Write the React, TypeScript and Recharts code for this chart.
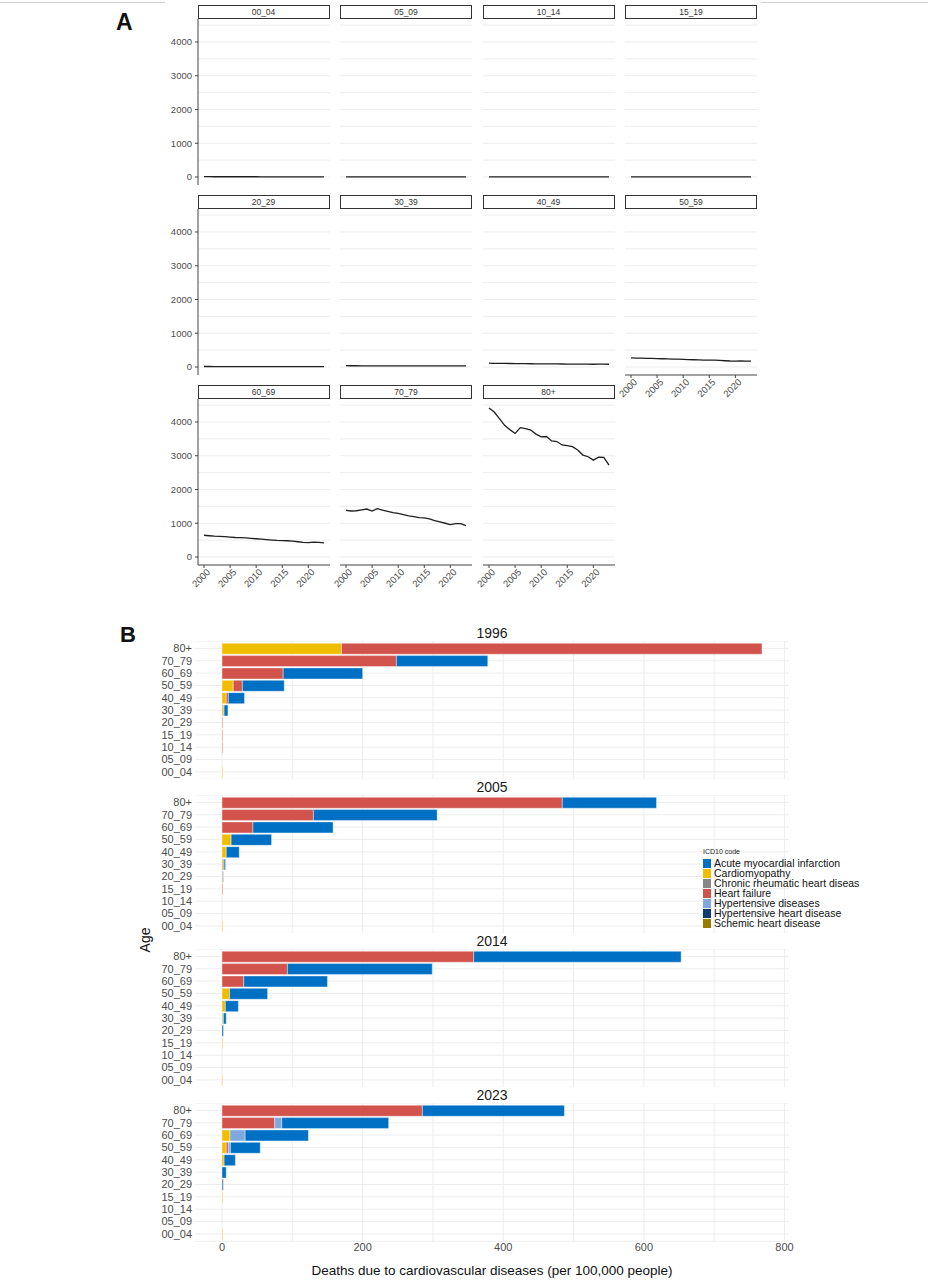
import React from "react";
import { LineChart, Line, XAxis, YAxis, BarChart, Bar, CartesianGrid } from "recharts";

const FONT = '"Liberation Sans", Arial, sans-serif';

// ---------- Panel A data ----------
const years = [2000, 2001, 2002, 2003, 2004, 2005, 2006, 2007, 2008, 2009, 2010, 2011, 2012, 2013, 2014, 2015, 2016, 2017, 2018, 2019, 2020, 2021, 2022, 2023];
const yearTicks = [2000, 2005, 2010, 2015, 2020];
const yTicksA = [0, 1000, 2000, 3000, 4000];
const gridA = [0, 500, 1000, 1500, 2000, 2500, 3000, 3500, 4000, 4500];

const rate00_04 = [9, 9, 8, 8, 8, 8, 7, 7, 7, 7, 7, 6, 6, 6, 6, 6, 6, 6, 5, 5, 5, 5, 5, 5];
const rate05_09 = [4, 4, 3, 2, 2, 2, 2, 2, 2, 2, 2, 2, 2, 2, 2, 2, 2, 2, 2, 2, 2, 2, 2, 2];
const rate10_14 = [3, 3, 3, 3, 3, 3, 3, 3, 3, 3, 3, 3, 3, 3, 3, 3, 3, 3, 3, 3, 3, 3, 3, 3];
const rate15_19 = [5, 5, 5, 5, 5, 5, 5, 5, 5, 5, 5, 5, 5, 5, 5, 5, 5, 5, 5, 5, 5, 5, 5, 5];
const rate20_29 = [15, 15, 14, 14, 14, 13, 13, 13, 13, 13, 12, 12, 12, 12, 12, 12, 12, 12, 11, 11, 11, 12, 12, 12];
const rate30_39 = [38, 37, 37, 36, 36, 35, 35, 34, 34, 34, 33, 33, 33, 32, 32, 32, 32, 31, 31, 31, 31, 32, 32, 31];
const rate40_49 = [112, 110, 108, 106, 104, 102, 100, 98, 96, 95, 93, 92, 91, 90, 89, 88, 87, 86, 84, 83, 82, 84, 83, 82];
const rate50_59 = [272, 265, 262, 258, 254, 250, 245, 240, 236, 231, 225, 220, 215, 210, 206, 205, 203, 195, 185, 178, 177, 180, 176, 172];
const rate60_69 = [645, 630, 618, 612, 605, 590, 578, 572, 565, 552, 540, 528, 515, 502, 492, 488, 482, 468, 452, 432, 425, 442, 435, 418];
const rate70_79 = [1382, 1363, 1370, 1395, 1421, 1363, 1431, 1392, 1353, 1314, 1294, 1255, 1216, 1196, 1167, 1157, 1127, 1078, 1039, 1000, 961, 990, 990, 931];
const rate80plus = [4413, 4295, 4098, 3902, 3774, 3660, 3833, 3800, 3760, 3640, 3560, 3570, 3440, 3420, 3320, 3300, 3270, 3170, 3020, 2970, 2870, 2955, 2950, 2720];

const facetLabelsA = ["00_04", "05_09", "10_14", "15_19", "20_29", "30_39", "40_49", "50_59", "60_69", "70_79", "80+"];
const facetValuesA = [rate00_04, rate05_09, rate10_14, rate15_19, rate20_29, rate30_39, rate40_49, rate50_59, rate60_69, rate70_79, rate80plus];

// ---------- Panel B data ----------
const yearsB = [1996, 2005, 2014, 2023];
const ageLabels = ["80+", "70_79", "60_69", "50_59", "40_49", "30_39", "20_29", "15_19", "10_14", "05_09", "00_04"];
const xTicksB = [0, 200, 400, 600, 800];
const gridB = [0, 100, 200, 300, 400, 500, 600, 700, 800];

// each inner array: ages 80+ ... 00_04 ; outer: 1996, 2005, 2014, 2023
const cardiomyopathy = [
  [170, 0, 0, 16, 6, 2.4, 0.5, 0, 0, 0, 1],
  [0, 0, 0, 13, 6, 2, 0.5, 0, 0, 0, 1],
  [0, 0, 0, 10.8, 4.8, 1.2, 0, 1, 0, 0, 1],
  [0, 0, 11.4, 6, 3, 0, 0, 1, 0, 0, 1],
];
const heartFailure = [
  [598, 248, 87, 13, 3, 0, 1, 1, 1, 0, 0],
  [484, 130, 44, 0, 0, 0, 0, 1, 0, 0, 0],
  [358, 93, 31, 0, 0, 0, 0, 0, 0, 0, 0],
  [285, 75, 0, 3, 0, 0, 0, 0, 0, 0, 0],
];
const hypertensiveDiseases = [
  [0, 0, 0, 0, 0, 0, 0, 0, 0, 0, 0],
  [0, 0, 0, 0, 0, 0, 0, 0, 0, 0, 0],
  [0, 0, 0, 0, 0, 0, 0, 0, 0, 0, 0],
  [0, 10, 21.5, 3, 0, 0, 0, 0, 0, 0, 0],
];
const hypertensiveHeart = [
  [0, 0, 0, 0, 0, 0.6, 0, 0, 0, 0, 0],
  [0, 0, 0, 0, 0, 1, 0, 0, 0, 0, 0],
  [0, 0, 0, 0, 0, 1, 0, 0, 0, 0, 0],
  [0, 0, 0, 0, 0, 0, 1.5, 0, 0, 0, 0],
];
const chronicRheumatic = [
  [0, 0, 0, 0, 0, 0, 0, 0, 0, 0, 0],
  [0, 0, 0, 0, 0, 0, 1.5, 0, 0, 0, 0],
  [0, 0, 0, 0, 0, 0, 0, 0, 0, 0, 0],
  [0, 0, 0, 0, 0, 0, 0, 0, 0, 0, 0],
];
const schemicHeart = [
  [0, 0, 0, 0, 0, 0, 0, 0, 0, 0, 0],
  [0, 0, 0, 0, 0, 0, 0, 0, 0, 0, 0],
  [0, 0, 0, 0, 0, 0, 0, 0, 0, 0, 0],
  [0, 0, 0, 0, 0, 0, 0, 0, 0, 0, 0],
];
const acuteMI = [
  [0, 130, 113, 59.5, 23, 5.4, 0, 0, 0, 0, 0],
  [134, 176, 114, 57.5, 18.5, 2, 0, 0, 0, 0, 0],
  [295, 206, 119, 54, 18.5, 3.8, 2, 0, 0, 0, 0],
  [202, 152, 90, 42.4, 16, 6, 0.5, 0, 0, 0, 0],
];

// stacking order (from zero outward)
const causes = [
  { key: "cardio", name: "Cardiomyopathy", color: "#F0BE00", values: cardiomyopathy },
  { key: "hf", name: "Heart failure", color: "#D1534C", values: heartFailure },
  { key: "htd", name: "Hypertensive diseases", color: "#7FA8DE", values: hypertensiveDiseases },
  { key: "hhd", name: "Hypertensive heart disease", color: "#0D3B6E", values: hypertensiveHeart },
  { key: "crhd", name: "Chronic rheumatic heart diseas", color: "#878787", values: chronicRheumatic },
  { key: "ihd", name: "Schemic heart disease", color: "#9C7A00", values: schemicHeart },
  { key: "ami", name: "Acute myocardial infarction", color: "#0070C4", values: acuteMI },
];
const legendOrder = ["ami", "cardio", "crhd", "hf", "htd", "hhd", "ihd"];

// ---------- Layout ----------
const colX = [197.5, 340, 482.5, 625];
const PW = 132;
const PH = 166;
const ML = 22;

const RotTick = (props: any) => {
  const { x, y, payload } = props;
  return (
    <g transform={`translate(${x + 2},${y - 2})`}>
      <text x={0} y={0} dy="0.72em" textAnchor="end" transform="rotate(-45)" fontSize={9.5} fill="#4d4d4d" fontFamily={FONT}>
        {payload.value}
      </text>
    </g>
  );
};

function FacetA({ idx }: { idx: number }) {
  const row = Math.floor(idx / 4);
  const col = idx % 4;
  const showY = col === 0;
  const showX = row === 2 || (row === 1 && col === 3);
  const yW = showY ? 40 : 0;
  const xH = showX ? 40 : 0;
  const plotTop = 19 + 190 * row;
  const left = colX[col];
  const vals = facetValuesA[idx];
  const data = years.map((yr, i) => ({ year: yr, v: vals[i] }));
  return (
    <>
      <div
        style={{
          position: "absolute",
          left,
          top: 5 + 190 * row,
          width: PW,
          height: 14,
          border: "1px solid #333",
          boxSizing: "border-box",
          background: "#fff",
          fontSize: 8.5,
          color: "#333",
          textAlign: "center",
          lineHeight: "12px",
          fontFamily: FONT,
        }}
      >
        {facetLabelsA[idx]}
      </div>
      <div style={{ position: "absolute", left: left - yW - ML, top: plotTop }}>
        <LineChart width={PW + yW + ML + 4} height={PH + xH} data={data} margin={{ top: 0, right: 4, bottom: 0, left: ML }}>
          <CartesianGrid vertical={false} horizontalValues={gridA} stroke="#ebebeb" strokeWidth={0.9} />
          <XAxis
            type="number"
            dataKey="year"
            domain={[1998.85, 2024.15]}
            allowDataOverflow
            ticks={yearTicks}
            interval={0}
            hide={!showX}
            height={40}
            tick={<RotTick />}
            tickSize={3}
            tickMargin={2}
            stroke="#444"
          />
          <YAxis
            type="number"
            domain={[-237, 4681]}
            allowDataOverflow
            ticks={yTicksA}
            interval={0}
            hide={!showY}
            width={40}
            tickSize={3}
            tickMargin={3}
            stroke="#444"
            tick={{ fontSize: 9.5, fill: "#4d4d4d", fontFamily: FONT }}
          />
          <Line dataKey="v" type="linear" stroke="#1f1f1f" strokeWidth={1.3} dot={false} activeDot={false} isAnimationActive={false} />
        </LineChart>
      </div>
    </>
  );
}

const BAND = 12.35;
const PHB = BAND * 11.2;

function FacetB({ i }: { i: number }) {
  const top = 648 + 154 * i - 0.6 * BAND;
  const showX = i === 3;
  const data = ageLabels.map((age, k) => {
    const row: any = { age };
    causes.forEach((c) => {
      row[c.key] = c.values[i][k];
    });
    return row;
  });
  return (
    <>
      <div
        style={{
          position: "absolute",
          left: 195,
          width: 594,
          top: 633 + 154 * i - 9,
          height: 18,
          lineHeight: "18px",
          textAlign: "center",
          fontSize: 14,
          color: "#1a1a1a",
          fontFamily: FONT,
        }}
      >
        {yearsB[i]}
      </div>
      <div style={{ position: "absolute", left: 135, top }}>
        <BarChart
          layout="vertical"
          width={674}
          height={PHB + (showX ? 22 : 0)}
          data={data}
          margin={{ top: 0, right: 20, bottom: 0, left: 0 }}
          barSize={11}
        >
          <CartesianGrid verticalValues={gridB} stroke="#ebebeb" strokeWidth={0.9} />
          <XAxis
            type="number"
            domain={[-38.4, 806.4]}
            allowDataOverflow
            ticks={xTicksB}
            interval={0}
            hide={!showX}
            height={22}
            axisLine={false}
            tickLine={false}
            tickSize={0}
            tickMargin={2}
            tick={{ fontSize: 11, fill: "#4d4d4d", fontFamily: FONT }}
          />
          <YAxis
            type="category"
            dataKey="age"
            width={60}
            axisLine={false}
            tickLine={false}
            tickSize={0}
            tickMargin={3}
            interval={0}
            padding={{ top: 0.1 * BAND, bottom: 0.1 * BAND }}
            tick={{ fontSize: 11, fill: "#4d4d4d", fontFamily: FONT }}
          />
          {causes.map((c) => (
            <Bar
              key={c.key}
              dataKey={c.key}
              name={c.name}
              stackId="s"
              fill={c.color}
              stroke="#ffffff"
              strokeWidth={0.4}
              isAnimationActive={false}
            />
          ))}
        </BarChart>
      </div>
    </>
  );
}

export default function App() {
  return (
    <div
      style={{
        position: "absolute",
        left: 0,
        top: 0,
        width: 928,
        height: 1280,
        background: "#fff",
        fontFamily: FONT,
        overflow: "hidden",
      }}
    >
      <div style={{ position: "absolute", left: 0, top: 2, width: 165, height: 1, background: "#d0d0d0" }} />
      <div style={{ position: "absolute", left: 761, top: 2, width: 167, height: 1, background: "#d0d0d0" }} />

      <div style={{ position: "absolute", left: 116, top: 9, fontSize: 23, fontWeight: "bold", color: "#111" }}>A</div>
      <div style={{ position: "absolute", left: 120, top: 622, fontSize: 22, fontWeight: "bold", color: "#111" }}>B</div>

      {facetLabelsA.map((_, idx) => (
        <FacetA key={idx} idx={idx} />
      ))}

      {yearsB.map((_, i) => (
        <FacetB key={i} i={i} />
      ))}

      <div
        style={{
          position: "absolute",
          left: 145,
          top: 940,
          transform: "translate(-50%, -50%) rotate(-90deg)",
          fontSize: 14,
          color: "#111",
          whiteSpace: "nowrap",
        }}
      >
        Age
      </div>
      <div
        style={{
          position: "absolute",
          left: 195,
          width: 594,
          top: 1263,
          textAlign: "center",
          fontSize: 13.5,
          color: "#111",
          whiteSpace: "nowrap",
        }}
      >
        Deaths due to cardiovascular diseases (per 100,000 people)
      </div>

      <div style={{ position: "absolute", left: 703, top: 847 }}>
        <div style={{ fontSize: 7, color: "#222", height: 11, lineHeight: "10px" }}>ICD10 code</div>
        {legendOrder.map((k) => {
          const c = causes.find((cc) => cc.key === k)!;
          return (
            <div key={k} style={{ display: "flex", alignItems: "center", height: 10 }}>
              <div style={{ width: 8, height: 9, background: c.color, marginRight: 3 }} />
              <div style={{ fontSize: 10.5, color: "#111", lineHeight: "10px", whiteSpace: "nowrap" }}>{c.name}</div>
            </div>
          );
        })}
      </div>
    </div>
  );
}
